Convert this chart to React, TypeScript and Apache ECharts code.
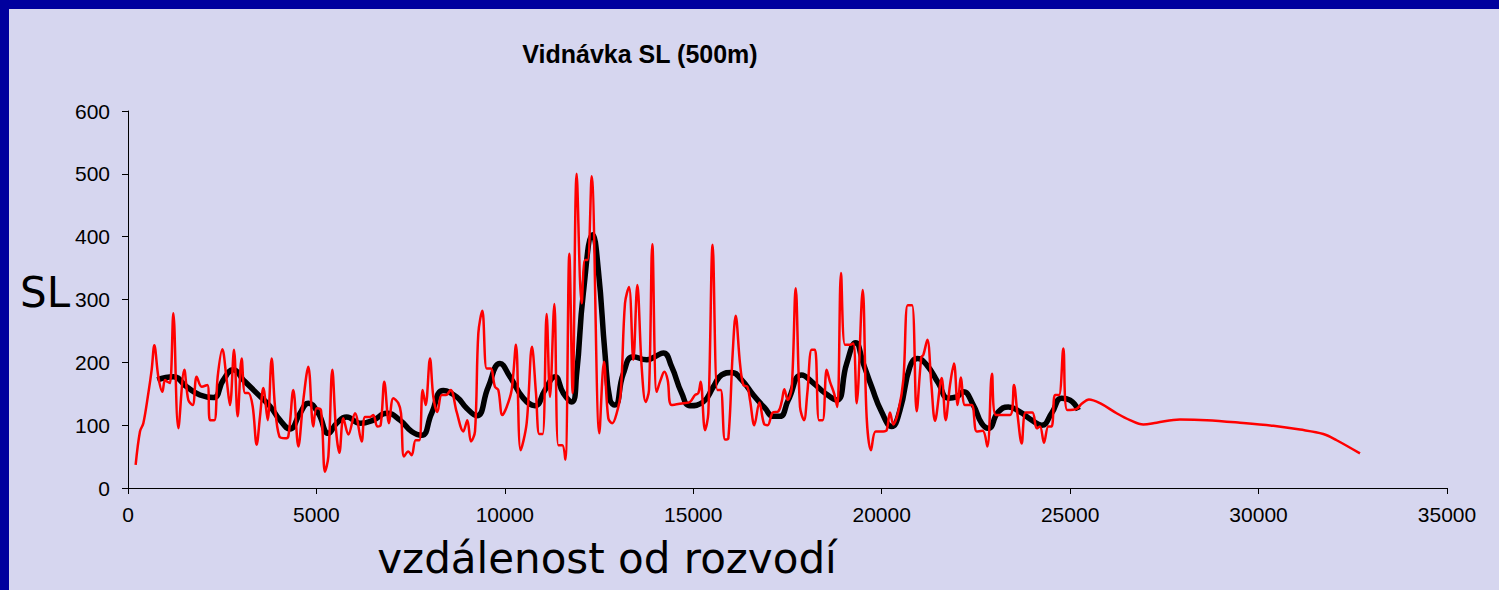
import React, { useEffect, useRef } from "react";
import * as echarts from "echarts";

// Distance from watershed (m) and SL value — raw series (red)
const redPoints: [number, number][] = [
  [203, 37], [318, 90], [407, 103], [540, 151], [628, 188], [699, 227], [805, 177], [911, 153], [982, 172],
  [1044, 169], [1114, 167], [1203, 278], [1336, 95], [1495, 188], [1601, 140], [1716, 132], [1822, 177],
  [1955, 161], [2105, 164], [2176, 108], [2291, 108], [2379, 177], [2503, 221], [2618, 172], [2706, 132],
  [2813, 220], [2910, 114], [3016, 206], [3105, 151], [3193, 151], [3308, 130], [3414, 69], [3503, 114],
  [3591, 159], [3706, 108], [3812, 206], [3900, 130], [4016, 82], [4166, 79], [4254, 82], [4387, 156],
  [4520, 66], [4652, 140], [4785, 193], [4918, 98], [5006, 127], [5121, 124], [5227, 26], [5316, 50],
  [5422, 188], [5519, 93], [5608, 56], [5714, 111], [5847, 85], [6023, 119], [6200, 74], [6289, 113],
  [6421, 113], [6510, 116], [6616, 98], [6704, 100], [6802, 169], [6926, 103], [7040, 143], [7173, 135],
  [7244, 119], [7323, 50], [7438, 58], [7527, 52], [7633, 76], [7730, 76], [7819, 156], [7898, 132],
  [8013, 206], [8102, 145], [8208, 121], [8323, 148], [8438, 148], [8562, 156], [8721, 121], [8898, 90],
  [9004, 108], [9101, 74], [9208, 90], [9296, 246], [9402, 282], [9517, 190], [9623, 190], [9738, 161],
  [9826, 156], [9933, 116], [10048, 129], [10180, 156], [10295, 228], [10419, 60], [10578, 103],
  [10720, 225], [10826, 151], [10914, 86], [11003, 86], [11109, 277], [11198, 145], [11313, 293],
  [11419, 68], [11525, 68], [11605, 45], [11711, 373], [11799, 151], [11905, 500], [12038, 294],
  [12127, 363], [12197, 363], [12303, 496], [12507, 87], [12631, 201], [12745, 111], [12851, 103],
  [12967, 119], [13074, 151], [13188, 294], [13294, 320], [13409, 204], [13515, 323], [13630, 193],
  [13736, 137], [13825, 156], [13913, 388], [14028, 153], [14134, 172], [14231, 185], [14320, 172],
  [14426, 132], [14736, 135], [14913, 137], [15046, 148], [15134, 151], [15196, 169], [15311, 92],
  [15399, 119], [15514, 387], [15638, 156], [15727, 156], [15842, 77], [15930, 79], [16045, 214],
  [16125, 274], [16240, 198], [16328, 164], [16434, 161], [16505, 140], [16620, 100], [16753, 136],
  [16877, 102], [16974, 100], [17107, 120], [17257, 122], [17345, 137], [17416, 157], [17505, 140],
  [17611, 159], [17717, 318], [17832, 129], [17938, 108], [18026, 151], [18141, 220], [18230, 220],
  [18336, 108], [18433, 108], [18539, 188], [18628, 169], [18734, 151], [18822, 129], [18920, 342],
  [19026, 228], [19159, 228], [19247, 230], [19336, 135], [19495, 315], [19601, 112], [19716, 60],
  [19840, 90], [20043, 90], [20132, 92], [20220, 120], [20309, 101], [20441, 122], [20574, 172],
  [20690, 291], [20805, 291], [20928, 122], [21050, 208], [21105, 212], [21211, 236], [21318, 164],
  [21414, 107], [21591, 175], [21697, 108], [21812, 164], [21918, 198], [22015, 132], [22104, 176],
  [22210, 132], [22387, 132], [22520, 90], [22679, 91], [22803, 66], [22926, 182], [23032, 116],
  [23404, 116], [23510, 164], [23599, 119], [23714, 71], [23820, 120], [23997, 120], [24112, 95],
  [24200, 98], [24306, 72], [24421, 98], [24510, 98], [24598, 148], [24704, 148], [24819, 222],
  [24925, 124], [25173, 126], [25306, 134], [25500, 141], [25792, 135], [26234, 119], [26588, 108],
  [26942, 101], [27296, 104], [27915, 109], [28623, 108], [29507, 104], [30392, 99], [31099, 93],
  [31718, 86], [32072, 76], [32691, 55],
];

// Smoothed (moving average) series (black)
const blackPoints: [number, number][] = [
  [778, 172], [1203, 177], [1557, 161], [1910, 148], [2264, 144], [2530, 172], [2795, 188], [3060, 172],
  [3414, 151], [3768, 130], [4033, 108], [4299, 94], [4564, 119], [4785, 135], [5050, 119], [5316, 87],
  [5537, 103], [5802, 113], [6156, 103], [6510, 108], [6864, 119], [7217, 108], [7527, 90], [7792, 84],
  [8058, 119], [8367, 155], [8721, 145], [8986, 127], [9252, 115], [9561, 161], [9871, 198], [10136, 177],
  [10490, 143], [10800, 131], [11065, 156], [11330, 177], [11551, 151], [11773, 137], [11905, 182],
  [12082, 310], [12330, 403], [12480, 347], [12657, 214], [12790, 140], [12922, 132], [13144, 182],
  [13409, 209], [13763, 204], [13984, 209], [14205, 215], [14426, 193], [14692, 151], [14913, 131],
  [15266, 137], [15531, 161], [15753, 180], [16018, 184], [16283, 172], [16593, 148], [16902, 127],
  [17124, 114], [17300, 114], [17521, 140], [17876, 180], [18186, 167], [18495, 151], [18805, 140],
  [19070, 198], [19309, 231], [19512, 198], [19733, 161], [19999, 121], [20264, 98], [20485, 124],
  [20750, 193], [20950, 206], [21193, 196], [21502, 167], [21768, 143], [21989, 145], [22166, 153],
  [22431, 132], [22652, 103], [22829, 95], [23094, 121], [23360, 129], [23669, 121], [23979, 108],
  [24244, 100], [24510, 119], [24775, 143], [24996, 140], [25217, 124],
];

const xTicks = { min: 0, max: 35000, interval: 5000 };
const yTicks = { min: 0, max: 600, interval: 100 };

const titleText = "Vidnávka SL (500m)";
const yName = "SL";
const xName = "vzdálenost od rozvodí";

export default function App() {
  const ref = useRef<HTMLDivElement>(null);
  useEffect(() => {
    if (!ref.current) return;
    const chart = echarts.init(ref.current, null, { renderer: "svg" });
    const axisCommon = {
      axisLine: { show: true, lineStyle: { color: "#000", width: 1 } },
      axisTick: { show: true, length: 6, inside: false, lineStyle: { color: "#000" } },
      splitLine: { show: false },
    };
    chart.setOption({
      animation: false,
      backgroundColor: "#D6D6EF",
      grid: { left: 128, right: 52, top: 111, bottom: 102, containLabel: false },
      xAxis: {
        type: "value",
        ...xTicks,
        ...axisCommon,
        axisLabel: {
          fontSize: 21, color: "#000", margin: 16, fontFamily: "Liberation Sans",
          formatter: (v: number) => String(v),
        },
      },
      yAxis: {
        type: "value",
        ...yTicks,
        ...axisCommon,
        axisLabel: {
          fontSize: 21, color: "#000", margin: 18, fontFamily: "Liberation Sans",
          formatter: (v: number) => String(v),
        },
      },
      graphic: [
        { type: "rect", shape: { x: 0, y: 0, width: 1499, height: 9 }, style: { fill: "#00009E" } },
        { type: "rect", shape: { x: 0, y: 0, width: 9, height: 590 }, style: { fill: "#00009E" } },
        {
          type: "text", x: 640, y: 54,
          style: { text: titleText, font: "bold 25px 'Liberation Sans'", fill: "#000", textAlign: "center", textVerticalAlign: "middle" },
        },
        {
          type: "text", x: 45, y: 292,
          style: { text: yName, font: "42px 'DejaVu Sans'", fill: "#000", textAlign: "center", textVerticalAlign: "middle" },
        },
        {
          type: "text", x: 607, y: 558,
          style: { text: xName, font: "42px 'DejaVu Sans'", fill: "#000", textAlign: "center", textVerticalAlign: "middle" },
        },
      ],
      series: [
        {
          type: "line",
          data: blackPoints,
          smooth: 0.5,
          showSymbol: false,
          lineStyle: { color: "#000", width: 5.5 },
          z: 2,
        },
        {
          type: "line",
          data: redPoints,
          smooth: 0.35,
          showSymbol: false,
          lineStyle: { color: "#FF0000", width: 2.5 },
          z: 3,
        },
      ],
    });
    return () => chart.dispose();
  }, []);
  return (
    <div style={{ position: "fixed", left: 0, top: 0, width: 1499, height: 590 }}>
      <div ref={ref} style={{ width: 1499, height: 590 }} />
    </div>
  );
}
